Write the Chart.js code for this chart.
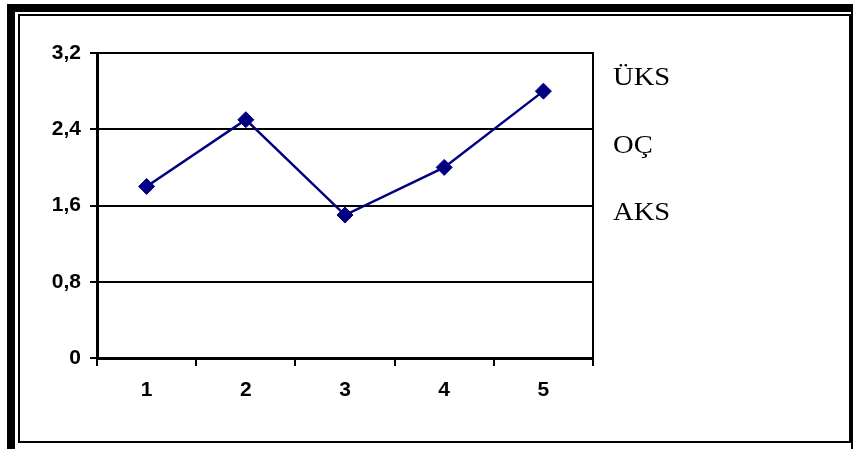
<!DOCTYPE html>
<html>
<head>
<meta charset="utf-8">
<script src="https://cdn.jsdelivr.net/npm/chart.js@4"></script>
<style>
  html, body { margin: 0; padding: 0; background: #fff; }
  body { width: 853px; height: 449px; position: relative; overflow: hidden; }
  .frame-outer { position: absolute; left: 7px; top: 4px; width: 852px; height: 460px;
    border: 8px solid #000; box-sizing: border-box; }
  .frame-inner { position: absolute; left: 18px; top: 14px; width: 833px; height: 429px;
    border: 2px solid #000; box-sizing: border-box; }
  #wrap { position: absolute; left: 0; top: 0; width: 853px; height: 449px; }
  .side { position: absolute; left: 613px; top: 43px; font-family: "Liberation Serif", "Times New Roman", serif;
    font-size: 26px; color: #000; line-height: 67.5px; transform: scaleX(1.1); transform-origin: left top; }
</style>
</head>
<body>
<div class="frame-outer"></div>
<div class="frame-inner"></div>
<div id="wrap"><canvas id="c" width="853" height="449"></canvas></div>
<div class="side" id="side"></div>
<script>
// Measurement series, one value per category
const categories = ['1', '2', '3', '4', '5'];
const values = [1.8, 2.5, 1.5, 2.0, 2.8];
// Value axis ticks, comma as decimal separator
const yTicks = [0, 0.8, 1.6, 2.4, 3.2];
const yTickLabels = ['0', '0,8', '1,6', '2,4', '3,2'];
// Level labels shown at the right of the plot
const levelLabels = ['ÜKS', 'OÇ', 'AKS'];

document.getElementById('side').innerHTML = levelLabels.map(t => '<div>' + t + '</div>').join('');

const tickFont = { family: '"Liberation Sans", Arial, sans-serif', size: 21, weight: 'bold' };

new Chart(document.getElementById('c'), {
  type: 'line',
  data: {
    labels: categories,
    datasets: [{
      data: values,
      borderColor: '#000080',
      backgroundColor: '#000080',
      borderWidth: 2.5,
      pointStyle: 'rectRot',
      pointRadius: 8,
      pointBorderWidth: 1,
      pointBorderColor: '#000080',
      pointBackgroundColor: '#000080',
      tension: 0,
      fill: false
    }]
  },
  options: {
    responsive: false,
    animation: false,
    devicePixelRatio: 1,
    layout: { padding: { left: 0, top: 53, right: 260, bottom: 41 } },
    plugins: { legend: { display: false }, tooltip: { enabled: false } },
    scales: {
      x: {
        offset: true,
        grid: { offset: true, drawOnChartArea: false, drawTicks: true, tickLength: 8, color: '#000', lineWidth: 2 },
        border: { display: true, color: '#000', width: 3 },
        ticks: { color: '#000', font: tickFont, padding: 12 },
        afterFit: s => { s.height = 50; }
      },
      y: {
        min: 0, max: 3.2,
        afterBuildTicks: s => { s.ticks = yTicks.map(v => ({ value: v })); },
        grid: { color: '#000', lineWidth: 2, drawTicks: true, tickLength: 7 },
        border: { display: true, color: '#000', width: 3 },
        ticks: {
          color: '#000', font: tickFont, padding: 9,
          callback: (v) => yTickLabels[yTicks.indexOf(v)]
        },
        afterFit: s => { s.width = 97; }
      },
      y2: {
        position: 'right',
        min: 0, max: 3.2,
        grid: { drawOnChartArea: false, drawTicks: false },
        border: { display: true, color: '#000', width: 2 },
        ticks: { display: false },
        afterFit: s => { s.width = 0; }
      }
    }
  }
});
</script>
</body>
</html>
